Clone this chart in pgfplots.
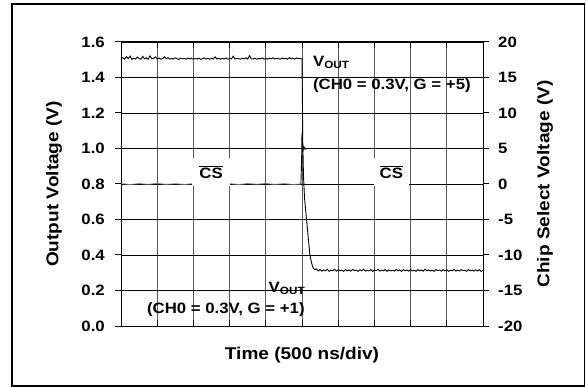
\documentclass[border=0pt]{standalone}
\usepackage{pgfplots}
\pgfplotsset{compat=1.18}
\usepackage{fontspec}
\setmainfont{Liberation Sans}[FakeStretch=1.12]
\pgfdeclarelayer{boxes}
\pgfplotsset{
  layers/mylayers/.define layer set={axis background,axis grid,boxes,axis ticks,axis lines,axis tick labels,pre main,main,axis descriptions,axis foreground}{},
  set layers=mylayers,
}
\newcommand{\vout}{V\raisebox{-0.2ex}{\fontsize{10.5bp}{12bp}\selectfont OUT}}
\newcommand{\lblfont}{\fontsize{17bp}{21bp}\selectfont\bfseries}
\begin{document}
\fontsize{15bp}{18bp}\selectfont\bfseries
\begin{tikzpicture}
\begin{axis}[
  scale only axis, width=362bp, height=284bp,
  xmin=0, xmax=10, ymin=0, ymax=1.6,
  xtick={0,1,2,3,4,5,6,7,8,9,10}, xticklabels={},
  ytick={0,0.2,0.4,0.6,0.8,1.0,1.2,1.4,1.6},
  ytick pos=left,
  xtick align=inside, ytick align=outside,
  grid=major,
  x grid style={black!65,line width=0.8bp},
  y grid style={black,line width=0.6bp},
  axis line style={line width=1bp},
  major tick style={black,line width=1bp}, major tick length=6bp,
  /pgf/number format/assume math mode=true,
  yticklabel style={/pgf/number format/.cd,fixed,fixed zerofill,precision=1,/tikz/.cd,font=\bfseries,xshift=-5bp},
]
\begin{pgfonlayer}{boxes}
\fill[white] (axis cs:5.03,1.595) rectangle (axis cs:9.87,1.29);
\fill[white] (axis cs:0.52,0.299) rectangle (axis cs:5.17,0.002);
\end{pgfonlayer}
\addplot[black, line width=0.9bp] coordinates {
(0.00,1.505)(0.05,1.512)(0.10,1.503)(0.15,1.518)(0.20,1.506)(0.25,1.521)(0.30,1.502)(0.35,1.509)(0.40,1.504)(0.45,1.515)
(0.50,1.507)(0.55,1.503)(0.60,1.519)(0.65,1.505)(0.70,1.511)(0.75,1.502)(0.80,1.522)(0.85,1.506)(0.90,1.508)(0.95,1.516)
(1.00,1.504)(1.05,1.510)(1.10,1.503)(1.15,1.507)(1.20,1.517)(1.25,1.505)(1.30,1.512)(1.35,1.503)(1.40,1.508)(1.45,1.504)
(1.50,1.511)(1.55,1.506)(1.60,1.502)(1.65,1.509)(1.70,1.505)(1.75,1.507)(1.80,1.503)(1.85,1.510)(1.90,1.505)(1.95,1.508)
(2.00,1.503)(2.05,1.507)(2.10,1.504)(2.15,1.509)(2.20,1.502)(2.25,1.506)(2.30,1.511)(2.35,1.504)(2.40,1.508)(2.45,1.503)
(2.50,1.507)(2.55,1.505)(2.60,1.516)(2.65,1.504)(2.70,1.509)(2.75,1.503)(2.80,1.508)(2.85,1.504)(2.90,1.510)(2.95,1.503)
(3.00,1.507)(3.05,1.505)(3.10,1.520)(3.15,1.504)(3.20,1.508)(3.25,1.506)(3.30,1.503)(3.35,1.509)(3.40,1.505)(3.45,1.511)
(3.50,1.504)(3.55,1.523)(3.60,1.506)(3.65,1.504)(3.70,1.508)(3.75,1.503)(3.80,1.507)(3.85,1.505)(3.90,1.510)(3.95,1.504)
(4.00,1.507)(4.05,1.503)(4.10,1.509)(4.15,1.505)(4.20,1.511)(4.25,1.504)(4.30,1.508)(4.35,1.506)(4.40,1.503)(4.45,1.510)
(4.50,1.505)(4.55,1.508)(4.60,1.503)(4.65,1.512)(4.70,1.505)(4.75,1.509)(4.80,1.504)(4.85,1.510)(4.90,1.506)(4.95,1.508)
(5.00,1.504)(5.01,1.30)(5.02,1.05)(5.04,0.85)(5.07,0.72)(5.13,0.59)(5.18,0.48)(5.22,0.40)(5.27,0.35)(5.31,0.325)(5.35,0.318)
(5.40,0.322)(5.45,0.310)(5.50,0.318)(5.55,0.309)(5.60,0.316)(5.65,0.311)(5.70,0.320)(5.75,0.308)(5.80,0.315)(5.85,0.312)
(5.90,0.319)(5.95,0.309)(6.00,0.317)(6.05,0.311)(6.10,0.314)(6.15,0.308)(6.20,0.318)(6.25,0.310)(6.30,0.316)(6.35,0.309)
(6.40,0.319)(6.45,0.312)(6.50,0.315)(6.55,0.308)(6.60,0.317)(6.65,0.311)(6.70,0.320)(6.75,0.309)(6.80,0.314)(6.85,0.310)
(6.90,0.318)(6.95,0.307)(7.00,0.316)(7.05,0.312)(7.10,0.319)(7.15,0.309)(7.20,0.315)(7.25,0.311)(7.30,0.318)(7.35,0.308)
(7.40,0.316)(7.45,0.310)(7.50,0.314)(7.55,0.309)(7.60,0.319)(7.65,0.311)(7.70,0.316)(7.75,0.308)(7.80,0.317)(7.85,0.312)
(7.90,0.315)(7.95,0.309)(8.00,0.318)(8.05,0.310)(8.10,0.314)(8.15,0.308)(8.20,0.317)(8.25,0.311)(8.30,0.315)(8.35,0.309)
(8.40,0.320)(8.45,0.311)(8.50,0.316)(8.55,0.310)(8.60,0.314)(8.65,0.308)(8.70,0.318)(8.75,0.312)(8.80,0.315)(8.85,0.309)
(8.90,0.317)(8.95,0.310)(9.00,0.316)(9.05,0.308)(9.10,0.314)(9.15,0.311)(9.20,0.319)(9.25,0.309)(9.30,0.315)(9.35,0.310)
(9.40,0.317)(9.45,0.312)(9.50,0.314)(9.55,0.308)(9.60,0.318)(9.65,0.311)(9.70,0.315)(9.75,0.309)(9.80,0.316)(9.85,0.310)
(9.90,0.317)(9.95,0.308)(10.00,0.314)
};
\node[anchor=base west,inner sep=0pt] at (axis cs:5.30,1.462) {\vout};
\node[anchor=base west,inner sep=0pt] at (axis cs:5.30,1.335) {(CH0 = 0.3V, G = +5)};
\node[anchor=base east,inner sep=0pt] at (axis cs:5.08,0.188) {\vout};
\node[anchor=base east,inner sep=0pt] at (axis cs:5.08,0.073) {(CH0 = 0.3V, G = +1)};
\end{axis}
\begin{axis}[
  scale only axis, width=362bp, height=284bp,
  xmin=0, xmax=10, ymin=-20, ymax=20,
  axis x line=none, axis y line*=right,
  ytick={-20,-15,-10,-5,0,5,10,15,20},
  ytick align=outside,
  axis line style={line width=1bp},
  major tick style={black,line width=1bp}, major tick length=6bp,
  /pgf/number format/assume math mode=true,
  yticklabel style={font=\bfseries,xshift=4bp},
]
\addplot[black!55, line width=0.8bp] coordinates {
(0.00,0.05)(0.25,-0.08)(0.50,0.06)(0.75,-0.05)(1.00,0.08)(1.25,-0.06)(1.50,0.04)(1.75,-0.07)(2.00,0.06)(2.25,-0.05)
(2.50,0.07)(2.75,-0.06)(3.00,0.05)(3.25,-0.08)(3.50,0.06)(3.75,-0.04)(4.00,0.07)(4.25,-0.06)(4.50,0.05)(4.75,-0.07)(4.97,0.0)
};
\addplot[black, line width=0.9bp, line join=round] coordinates {
(4.97,0.0)(4.99,3.5)(5.00,7.2)(5.02,4.6)(5.05,5.3)(5.08,4.9)(5.12,5.0)(10.00,5.0)
};
\node[fill=white,minimum width=38bp,minimum height=28bp,inner sep=0pt] at (axis cs:2.49,1.7) {$\overline{\mbox{CS}}$};
\node[fill=white,minimum width=35bp,minimum height=28bp,inner sep=0pt] at (axis cs:7.47,1.7) {$\overline{\mbox{CS}}$};
\end{axis}
\node[rotate=90] at (-67bp,142bp) {\lblfont Output Voltage (V)};
\node[rotate=90] at (424bp,142bp) {\lblfont Chip Select Voltage (V)};
\node at (181bp,-29bp) {\lblfont Time (500 ns/div)};
\draw[line width=1.6bp] (-109bp,-60bp) rectangle (463.5bp,322bp);
\path (-121bp,-61bp) rectangle (465bp,326bp);
\end{tikzpicture}
\end{document}
